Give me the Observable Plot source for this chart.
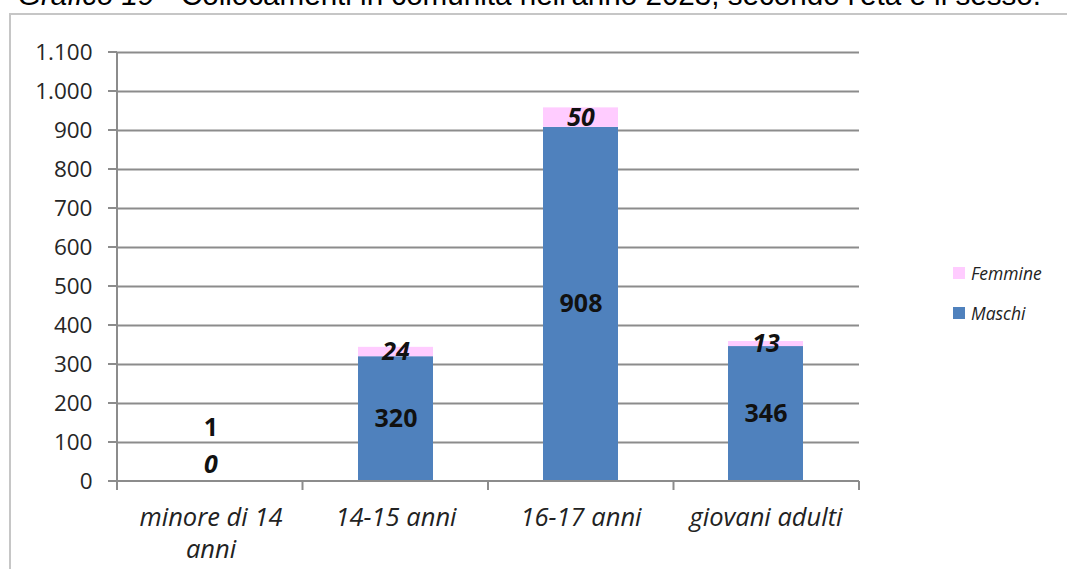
<!DOCTYPE html>
<html>
<head>
<meta charset="utf-8">
<script src="https://cdn.jsdelivr.net/npm/d3@7"></script>
<script src="https://cdn.jsdelivr.net/npm/@observablehq/plot@0.6"></script>
<style>
  html, body { margin: 0; padding: 0; background: #fff; overflow: hidden; }
  body { width: 1067px; height: 569px; position: relative; }
  #title { position: absolute; left: 18px; top: -20px; font-family: "Liberation Sans", Arial, sans-serif; font-size: 29.6px; line-height: 30px; color: #000; white-space: nowrap; }
  #box { position: absolute; left: 9px; top: 13px; width: 1080px; height: 580px; border: 2px solid #c6c6c6; box-sizing: border-box; }
  #chart { position: absolute; left: 0; top: 0; }
  #legend { position: absolute; left: 953px; top: 263px; font-family: "Open Sans", sans-serif; font-style: italic; font-size: 17.5px; color: #222; }
  #legend .item { display: flex; align-items: center; height: 20px; margin-bottom: 20px; }
  #legend .sw { width: 12px; height: 12px; margin-right: 6px; }
</style>
</head>
<body>
<div id="box"></div>
<div id="title"><i>Grafico 19 -</i> Collocamenti in comunità nell'anno 2023, secondo l'età e il sesso.</div>
<div id="chart"></div>
<div id="legend"></div>
<script>
// ---- data ----
const categories = ["minore di 14 anni", "14-15 anni", "16-17 anni", "giovani adulti"];
const series = ["Maschi", "Femmine"];
const maschi = [1, 320, 908, 346];
const femmine = [0, 24, 50, 13];
const yTicks = [0, 100, 200, 300, 400, 500, 600, 700, 800, 900, 1000, 1100];
const colors = {Maschi: "#4f81bd", Femmine: "#ffccff"};
const legendOrder = ["Femmine", "Maschi"];
const tickLabels = {"minore di 14 anni": "minore di 14\nanni"};

const rows = [];
categories.forEach((c, i) => {
  rows.push({cat: c, sex: "Maschi", value: maschi[i]});
  rows.push({cat: c, sex: "Femmine", value: femmine[i]});
});

const itFmt = d3.formatLocale({decimal: ",", thousands: ".", grouping: [3], currency: ["", "€"]}).format(",");

const W = 1067, H = 569, ML = 117, MR = 208, MT = 52, MB = 88;
const gray = "#8c8c8c";

function axesFrame() {
  return (index, scales, values, dims) => {
    const g = d3.create("svg:g");
    const x0 = dims.marginLeft, x1 = dims.width - dims.marginRight;
    const y0 = dims.height - dims.marginBottom, yTop = dims.marginTop;
    const n = categories.length;
    const step = (x1 - x0) / n;
    g.append("line").attr("x1", x0).attr("x2", x0).attr("y1", yTop).attr("y2", y0)
      .attr("stroke", gray).attr("stroke-width", 2);
    for (const t of yTicks) {
      const y = scales.y(t);
      g.append("line").attr("x1", x0 - 9).attr("x2", x0).attr("y1", y).attr("y2", y)
        .attr("stroke", gray).attr("stroke-width", 2);
    }
    g.append("line").attr("x1", x0).attr("x2", x1).attr("y1", y0).attr("y2", y0)
      .attr("stroke", gray).attr("stroke-width", 2);
    for (let i = 0; i <= n; i++) {
      const x = x0 + i * step;
      g.append("line").attr("x1", x).attr("x2", x).attr("y1", y0).attr("y2", y0 + 9)
        .attr("stroke", gray).attr("stroke-width", 2);
    }
    return g.node();
  };
}

const small = d => d.value < 5;

const chart = Plot.plot({
  width: W,
  height: H,
  marginLeft: ML,
  marginRight: MR,
  marginTop: MT,
  marginBottom: MB,
  style: {fontFamily: "'Open Sans', sans-serif", background: "transparent"},
  x: {domain: categories, paddingInner: 0.596, paddingOuter: 0.298, label: null},
  y: {domain: [0, 1100], label: null},
  color: {domain: series, range: series.map(s => colors[s])},
  marks: [
    Plot.ruleY(yTicks.filter(t => t > 0), {stroke: gray, strokeWidth: 2, strokeOpacity: 1}),
    Plot.barY(rows, {x: "cat", y: "value", fill: "sex", order: series}),
    axesFrame(),
    Plot.axisY({ticks: yTicks, tickFormat: itFmt, tickSize: 0, tickPadding: 25, fontSize: 22.5, fill: "#262626"}),
    Plot.axisX({tickSize: 0, tickPadding: 22, fontSize: 25.5, fontStyle: "italic", fill: "#222",
      tickFormat: d => tickLabels[d] ?? d, lineHeight: 1.26, textAnchor: "middle"}),
    Plot.text(rows, Plot.stackY({x: "cat", y: "value", z: "sex", order: series, text: d => d.sex === "Maschi" && !small(d) ? String(d.value) : null,
      fontSize: 25, fontWeight: "bold", fill: "#111"})),
    Plot.text(rows, Plot.stackY({x: "cat", y: "value", z: "sex", order: series, text: d => d.sex === "Femmine" && !small(d) ? String(d.value) : null,
      fontSize: 25, fontWeight: "bold", fontStyle: "italic", fill: "#111"})),
    Plot.text(rows, Plot.stackY({x: "cat", y: "value", z: "sex", order: series, text: d => d.sex === "Maschi" && small(d) ? String(d.value) : null,
      fontSize: 25, fontWeight: "bold", fill: "#111", dy: -53})),
    Plot.text(rows, Plot.stackY({x: "cat", y: "value", z: "sex", order: series, text: d => d.sex === "Femmine" && small(d) ? String(d.value) : null,
      fontSize: 25, fontWeight: "bold", fontStyle: "italic", fill: "#111", dy: -16}))
  ]
});
document.getElementById("chart").appendChild(chart);

const legend = document.getElementById("legend");
for (const s of legendOrder) {
  const item = document.createElement("div");
  item.className = "item";
  const sw = document.createElement("span");
  sw.className = "sw";
  sw.style.background = colors[s];
  const lb = document.createElement("span");
  lb.textContent = s;
  item.appendChild(sw);
  item.appendChild(lb);
  legend.appendChild(item);
}
</script>
</body>
</html>
